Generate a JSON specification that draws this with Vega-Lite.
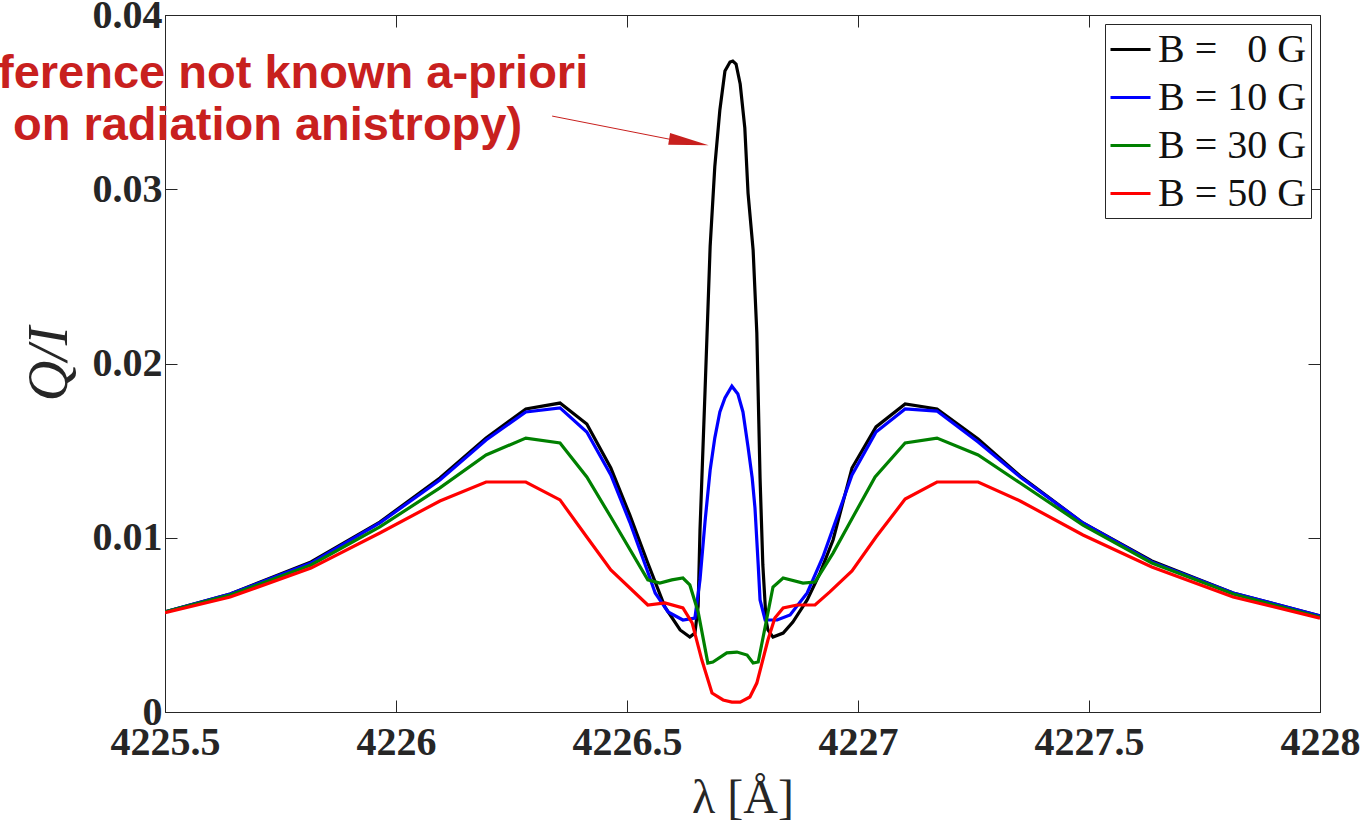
{
  "$schema": "https://vega.github.io/schema/vega-lite/v6.json",
  "width": 1155,
  "height": 697,
  "autosize": "none",
  "padding": {"left": 165, "top": 15, "right": 49, "bottom": 120},
  "background": "white",
  "datasets": {
    "curves": [
      {"B": "B = \u20070 G", "lambda": 4225.500, "QI": 0.00574},
      {"B": "B = \u20070 G", "lambda": 4225.641, "QI": 0.00677},
      {"B": "B = \u20070 G", "lambda": 4225.816, "QI": 0.00861},
      {"B": "B = \u20070 G", "lambda": 4225.965, "QI": 0.01090},
      {"B": "B = \u20070 G", "lambda": 4226.095, "QI": 0.01343},
      {"B": "B = \u20070 G", "lambda": 4226.195, "QI": 0.01572},
      {"B": "B = \u20070 G", "lambda": 4226.281, "QI": 0.01739},
      {"B": "B = \u20070 G", "lambda": 4226.355, "QI": 0.01773},
      {"B": "B = \u20070 G", "lambda": 4226.413, "QI": 0.01653},
      {"B": "B = \u20070 G", "lambda": 4226.465, "QI": 0.01400},
      {"B": "B = \u20070 G", "lambda": 4226.506, "QI": 0.01131},
      {"B": "B = \u20070 G", "lambda": 4226.545, "QI": 0.00855},
      {"B": "B = \u20070 G", "lambda": 4226.582, "QI": 0.00603},
      {"B": "B = \u20070 G", "lambda": 4226.615, "QI": 0.00471},
      {"B": "B = \u20070 G", "lambda": 4226.636, "QI": 0.00430},
      {"B": "B = \u20070 G", "lambda": 4226.647, "QI": 0.00453},
      {"B": "B = \u20070 G", "lambda": 4226.654, "QI": 0.00608},
      {"B": "B = \u20070 G", "lambda": 4226.658, "QI": 0.01044},
      {"B": "B = \u20070 G", "lambda": 4226.669, "QI": 0.01848},
      {"B": "B = \u20070 G", "lambda": 4226.680, "QI": 0.02674},
      {"B": "B = \u20070 G", "lambda": 4226.690, "QI": 0.03128},
      {"B": "B = \u20070 G", "lambda": 4226.701, "QI": 0.03455},
      {"B": "B = \u20070 G", "lambda": 4226.712, "QI": 0.03679},
      {"B": "B = \u20070 G", "lambda": 4226.723, "QI": 0.03730},
      {"B": "B = \u20070 G", "lambda": 4226.729, "QI": 0.03736},
      {"B": "B = \u20070 G", "lambda": 4226.736, "QI": 0.03719},
      {"B": "B = \u20070 G", "lambda": 4226.745, "QI": 0.03604},
      {"B": "B = \u20070 G", "lambda": 4226.755, "QI": 0.03352},
      {"B": "B = \u20070 G", "lambda": 4226.762, "QI": 0.02978},
      {"B": "B = \u20070 G", "lambda": 4226.773, "QI": 0.02651},
      {"B": "B = \u20070 G", "lambda": 4226.781, "QI": 0.02175},
      {"B": "B = \u20070 G", "lambda": 4226.788, "QI": 0.01343},
      {"B": "B = \u20070 G", "lambda": 4226.794, "QI": 0.00844},
      {"B": "B = \u20070 G", "lambda": 4226.801, "QI": 0.00528},
      {"B": "B = \u20070 G", "lambda": 4226.805, "QI": 0.00471},
      {"B": "B = \u20070 G", "lambda": 4226.816, "QI": 0.00430},
      {"B": "B = \u20070 G", "lambda": 4226.838, "QI": 0.00453},
      {"B": "B = \u20070 G", "lambda": 4226.859, "QI": 0.00516},
      {"B": "B = \u20070 G", "lambda": 4226.890, "QI": 0.00643},
      {"B": "B = \u20070 G", "lambda": 4226.918, "QI": 0.00798},
      {"B": "B = \u20070 G", "lambda": 4226.946, "QI": 0.00987},
      {"B": "B = \u20070 G", "lambda": 4226.987, "QI": 0.01400},
      {"B": "B = \u20070 G", "lambda": 4227.039, "QI": 0.01636},
      {"B": "B = \u20070 G", "lambda": 4227.102, "QI": 0.01768},
      {"B": "B = \u20070 G", "lambda": 4227.171, "QI": 0.01739},
      {"B": "B = \u20070 G", "lambda": 4227.260, "QI": 0.01567},
      {"B": "B = \u20070 G", "lambda": 4227.351, "QI": 0.01354},
      {"B": "B = \u20070 G", "lambda": 4227.487, "QI": 0.01085},
      {"B": "B = \u20070 G", "lambda": 4227.636, "QI": 0.00867},
      {"B": "B = \u20070 G", "lambda": 4227.812, "QI": 0.00683},
      {"B": "B = \u20070 G", "lambda": 4228.000, "QI": 0.00551},

      {"B": "B = 10 G", "lambda": 4225.500, "QI": 0.00574},
      {"B": "B = 10 G", "lambda": 4225.641, "QI": 0.00677},
      {"B": "B = 10 G", "lambda": 4225.816, "QI": 0.00855},
      {"B": "B = 10 G", "lambda": 4225.965, "QI": 0.01085},
      {"B": "B = 10 G", "lambda": 4226.095, "QI": 0.01331},
      {"B": "B = 10 G", "lambda": 4226.195, "QI": 0.01561},
      {"B": "B = 10 G", "lambda": 4226.281, "QI": 0.01722},
      {"B": "B = 10 G", "lambda": 4226.355, "QI": 0.01745},
      {"B": "B = 10 G", "lambda": 4226.413, "QI": 0.01607},
      {"B": "B = 10 G", "lambda": 4226.465, "QI": 0.01360},
      {"B": "B = 10 G", "lambda": 4226.506, "QI": 0.01090},
      {"B": "B = 10 G", "lambda": 4226.545, "QI": 0.00803},
      {"B": "B = 10 G", "lambda": 4226.561, "QI": 0.00683},
      {"B": "B = 10 G", "lambda": 4226.589, "QI": 0.00574},
      {"B": "B = 10 G", "lambda": 4226.621, "QI": 0.00528},
      {"B": "B = 10 G", "lambda": 4226.647, "QI": 0.00539},
      {"B": "B = 10 G", "lambda": 4226.658, "QI": 0.00758},
      {"B": "B = 10 G", "lambda": 4226.669, "QI": 0.01096},
      {"B": "B = 10 G", "lambda": 4226.680, "QI": 0.01389},
      {"B": "B = 10 G", "lambda": 4226.690, "QI": 0.01572},
      {"B": "B = 10 G", "lambda": 4226.701, "QI": 0.01722},
      {"B": "B = 10 G", "lambda": 4226.712, "QI": 0.01802},
      {"B": "B = 10 G", "lambda": 4226.727, "QI": 0.01870},
      {"B": "B = 10 G", "lambda": 4226.740, "QI": 0.01825},
      {"B": "B = 10 G", "lambda": 4226.751, "QI": 0.01722},
      {"B": "B = 10 G", "lambda": 4226.762, "QI": 0.01521},
      {"B": "B = 10 G", "lambda": 4226.771, "QI": 0.01343},
      {"B": "B = 10 G", "lambda": 4226.777, "QI": 0.01171},
      {"B": "B = 10 G", "lambda": 4226.784, "QI": 0.00844},
      {"B": "B = 10 G", "lambda": 4226.788, "QI": 0.00643},
      {"B": "B = 10 G", "lambda": 4226.799, "QI": 0.00528},
      {"B": "B = 10 G", "lambda": 4226.825, "QI": 0.00528},
      {"B": "B = 10 G", "lambda": 4226.853, "QI": 0.00557},
      {"B": "B = 10 G", "lambda": 4226.890, "QI": 0.00683},
      {"B": "B = 10 G", "lambda": 4226.924, "QI": 0.00890},
      {"B": "B = 10 G", "lambda": 4226.987, "QI": 0.01360},
      {"B": "B = 10 G", "lambda": 4227.039, "QI": 0.01607},
      {"B": "B = 10 G", "lambda": 4227.102, "QI": 0.01739},
      {"B": "B = 10 G", "lambda": 4227.171, "QI": 0.01727},
      {"B": "B = 10 G", "lambda": 4227.260, "QI": 0.01549},
      {"B": "B = 10 G", "lambda": 4227.351, "QI": 0.01349},
      {"B": "B = 10 G", "lambda": 4227.487, "QI": 0.01085},
      {"B": "B = 10 G", "lambda": 4227.636, "QI": 0.00861},
      {"B": "B = 10 G", "lambda": 4227.812, "QI": 0.00683},
      {"B": "B = 10 G", "lambda": 4228.000, "QI": 0.00551},

      {"B": "B = 30 G", "lambda": 4225.500, "QI": 0.00574},
      {"B": "B = 30 G", "lambda": 4225.641, "QI": 0.00671},
      {"B": "B = 30 G", "lambda": 4225.816, "QI": 0.00844},
      {"B": "B = 30 G", "lambda": 4225.965, "QI": 0.01062},
      {"B": "B = 30 G", "lambda": 4226.095, "QI": 0.01286},
      {"B": "B = 30 G", "lambda": 4226.195, "QI": 0.01475},
      {"B": "B = 30 G", "lambda": 4226.281, "QI": 0.01572},
      {"B": "B = 30 G", "lambda": 4226.355, "QI": 0.01544},
      {"B": "B = 30 G", "lambda": 4226.413, "QI": 0.01349},
      {"B": "B = 30 G", "lambda": 4226.465, "QI": 0.01119},
      {"B": "B = 30 G", "lambda": 4226.545, "QI": 0.00758},
      {"B": "B = 30 G", "lambda": 4226.571, "QI": 0.00740},
      {"B": "B = 30 G", "lambda": 4226.597, "QI": 0.00758},
      {"B": "B = 30 G", "lambda": 4226.621, "QI": 0.00769},
      {"B": "B = 30 G", "lambda": 4226.636, "QI": 0.00729},
      {"B": "B = 30 G", "lambda": 4226.654, "QI": 0.00574},
      {"B": "B = 30 G", "lambda": 4226.675, "QI": 0.00281},
      {"B": "B = 30 G", "lambda": 4226.686, "QI": 0.00287},
      {"B": "B = 30 G", "lambda": 4226.716, "QI": 0.00339},
      {"B": "B = 30 G", "lambda": 4226.738, "QI": 0.00344},
      {"B": "B = 30 G", "lambda": 4226.760, "QI": 0.00327},
      {"B": "B = 30 G", "lambda": 4226.773, "QI": 0.00281},
      {"B": "B = 30 G", "lambda": 4226.784, "QI": 0.00287},
      {"B": "B = 30 G", "lambda": 4226.799, "QI": 0.00488},
      {"B": "B = 30 G", "lambda": 4226.816, "QI": 0.00717},
      {"B": "B = 30 G", "lambda": 4226.838, "QI": 0.00769},
      {"B": "B = 30 G", "lambda": 4226.881, "QI": 0.00740},
      {"B": "B = 30 G", "lambda": 4226.907, "QI": 0.00746},
      {"B": "B = 30 G", "lambda": 4226.946, "QI": 0.00912},
      {"B": "B = 30 G", "lambda": 4226.989, "QI": 0.01119},
      {"B": "B = 30 G", "lambda": 4227.037, "QI": 0.01349},
      {"B": "B = 30 G", "lambda": 4227.102, "QI": 0.01544},
      {"B": "B = 30 G", "lambda": 4227.171, "QI": 0.01572},
      {"B": "B = 30 G", "lambda": 4227.260, "QI": 0.01475},
      {"B": "B = 30 G", "lambda": 4227.351, "QI": 0.01314},
      {"B": "B = 30 G", "lambda": 4227.487, "QI": 0.01073},
      {"B": "B = 30 G", "lambda": 4227.636, "QI": 0.00855},
      {"B": "B = 30 G", "lambda": 4227.812, "QI": 0.00677},
      {"B": "B = 30 G", "lambda": 4228.000, "QI": 0.00545},

      {"B": "B = 50 G", "lambda": 4225.500, "QI": 0.00570},
      {"B": "B = 50 G", "lambda": 4225.641, "QI": 0.00660},
      {"B": "B = 50 G", "lambda": 4225.816, "QI": 0.00826},
      {"B": "B = 50 G", "lambda": 4225.965, "QI": 0.01027},
      {"B": "B = 50 G", "lambda": 4226.095, "QI": 0.01211},
      {"B": "B = 50 G", "lambda": 4226.195, "QI": 0.01320},
      {"B": "B = 50 G", "lambda": 4226.281, "QI": 0.01320},
      {"B": "B = 50 G", "lambda": 4226.355, "QI": 0.01217},
      {"B": "B = 50 G", "lambda": 4226.413, "QI": 0.01004},
      {"B": "B = 50 G", "lambda": 4226.465, "QI": 0.00815},
      {"B": "B = 50 G", "lambda": 4226.545, "QI": 0.00614},
      {"B": "B = 50 G", "lambda": 4226.582, "QI": 0.00626},
      {"B": "B = 50 G", "lambda": 4226.621, "QI": 0.00597},
      {"B": "B = 50 G", "lambda": 4226.641, "QI": 0.00511},
      {"B": "B = 50 G", "lambda": 4226.662, "QI": 0.00298},
      {"B": "B = 50 G", "lambda": 4226.684, "QI": 0.00109},
      {"B": "B = 50 G", "lambda": 4226.708, "QI": 0.00069},
      {"B": "B = 50 G", "lambda": 4226.727, "QI": 0.00057},
      {"B": "B = 50 G", "lambda": 4226.745, "QI": 0.00057},
      {"B": "B = 50 G", "lambda": 4226.766, "QI": 0.00086},
      {"B": "B = 50 G", "lambda": 4226.781, "QI": 0.00166},
      {"B": "B = 50 G", "lambda": 4226.805, "QI": 0.00413},
      {"B": "B = 50 G", "lambda": 4226.820, "QI": 0.00539},
      {"B": "B = 50 G", "lambda": 4226.838, "QI": 0.00597},
      {"B": "B = 50 G", "lambda": 4226.868, "QI": 0.00614},
      {"B": "B = 50 G", "lambda": 4226.907, "QI": 0.00614},
      {"B": "B = 50 G", "lambda": 4226.939, "QI": 0.00689},
      {"B": "B = 50 G", "lambda": 4226.987, "QI": 0.00809},
      {"B": "B = 50 G", "lambda": 4227.039, "QI": 0.01004},
      {"B": "B = 50 G", "lambda": 4227.102, "QI": 0.01222},
      {"B": "B = 50 G", "lambda": 4227.171, "QI": 0.01320},
      {"B": "B = 50 G", "lambda": 4227.260, "QI": 0.01320},
      {"B": "B = 50 G", "lambda": 4227.351, "QI": 0.01211},
      {"B": "B = 50 G", "lambda": 4227.487, "QI": 0.01016},
      {"B": "B = 50 G", "lambda": 4227.636, "QI": 0.00832},
      {"B": "B = 50 G", "lambda": 4227.812, "QI": 0.00660},
      {"B": "B = 50 G", "lambda": 4228.000, "QI": 0.00539}
    ],
    "notes": [
      {"t": "ference not known a-priori", "lambda": 4226.416, "QI": 0.03581},
      {"t": "on radiation anistropy)", "lambda": 4226.273, "QI": 0.03283}
    ],
    "arrow": [
      {"lambda": 4226.338, "QI": 0.03420, "lambda2": 4226.600, "QI2": 0.03283}
    ],
    "head": [
      {"lambda": 4226.634, "QI": 0.03271}
    ]
  },
  "layer": [
    {
      "data": {"name": "curves"},
      "mark": {"type": "line", "strokeWidth": 3.2, "clip": true},
      "encoding": {
        "x": {
          "field": "lambda", "type": "quantitative",
          "scale": {"domain": [4225.5, 4228], "nice": false, "zero": false},
          "axis": {"orient": "bottom", "values": [4225.5, 4226, 4226.5, 4227, 4227.5, 4228], "format": "~r", "title": "λ [Å]", "labelPadding": 22, "titlePadding": 12, "titleFontSize": 48}
        },
        "y": {
          "field": "QI", "type": "quantitative",
          "scale": {"domain": [0, 0.04], "nice": false},
          "axis": {"orient": "left", "values": [0, 0.01, 0.02, 0.03, 0.04], "format": "~g", "title": "Q/I", "titleFontStyle": "italic", "titleFontSize": 56, "labelPadding": 15, "titlePadding": 14}
        },
        "color": {
          "field": "B", "type": "nominal",
          "scale": {"domain": ["B = \u20070 G", "B = 10 G", "B = 30 G", "B = 50 G"], "range": ["#000000", "#0000ff", "#008000", "#ff0000"]},
          "legend": {
            "title": null, "orient": "top-right", "offset": 9,
            "strokeColor": "#262626", "fillColor": "white", "padding": 4,
            "symbolType": "stroke", "symbolSize": 1600, "symbolStrokeWidth": 3,
            "labelFont": "Liberation Serif", "labelFontSize": 40, "labelColor": "#111",
            "labelOffset": 6, "rowPadding": 6, "labelLimit": 400
          }
        }
      }
    },
    {
      "data": {"name": "notes"},
      "mark": {"type": "text", "align": "right", "baseline": "alphabetic", "font": "Liberation Sans", "fontWeight": "bold", "fontSize": 47, "color": "#c8201e", "clip": false},
      "encoding": {
        "x": {"field": "lambda", "type": "quantitative", "axis": {"orient": "top", "values": [4225.5, 4226, 4226.5, 4227, 4227.5, 4228], "labels": false, "title": null, "domain": false}},
        "y": {"field": "QI", "type": "quantitative", "axis": {"orient": "right", "values": [0, 0.01, 0.02, 0.03, 0.04], "labels": false, "title": null, "domain": false}},
        "text": {"field": "t"}
      }
    },
    {
      "data": {"name": "arrow"},
      "mark": {"type": "rule", "color": "#c8201e", "strokeWidth": 1},
      "encoding": {
        "x": {"field": "lambda", "type": "quantitative", "axis": null},
        "y": {"field": "QI", "type": "quantitative", "axis": null},
        "x2": {"field": "lambda2"},
        "y2": {"field": "QI2"}
      }
    },
    {
      "data": {"name": "head"},
      "mark": {"type": "point", "shape": "M-1,-0.3L1,0L-1,0.3Z", "filled": true, "color": "#c8201e", "opacity": 1, "size": 1600, "angle": 9},
      "encoding": {
        "x": {"field": "lambda", "type": "quantitative", "axis": null},
        "y": {"field": "QI", "type": "quantitative", "axis": null}
      }
    }
  ],
  "resolve": {"axis": {"x": "independent", "y": "independent"}},
  "config": {
    "view": {"stroke": "#262626", "strokeWidth": 1},
    "axis": {
      "grid": false,
      "domainColor": "#262626",
      "tickColor": "#262626",
      "tickSize": -12,
      "labelFont": "Liberation Serif",
      "labelFontWeight": "bold",
      "labelFontSize": 40,
      "labelColor": "#262626",
      "titleFont": "Liberation Serif",
      "titleFontWeight": "normal",
      "titleColor": "#262626",
      "labelFlush": false,
      "labelOverlap": false
    }
  }
}
